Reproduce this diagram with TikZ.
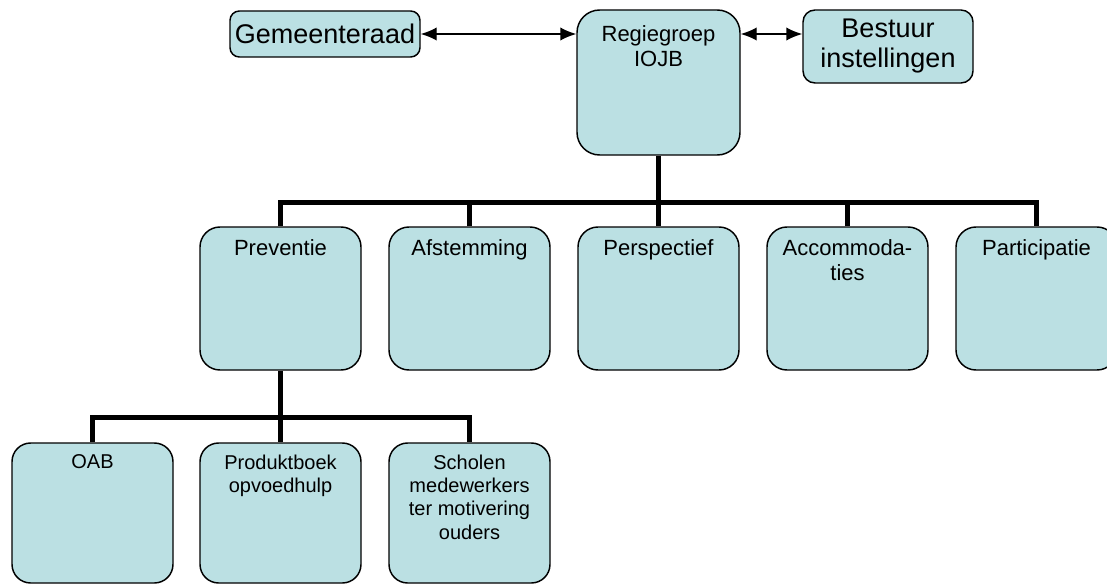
\documentclass[tikz,border=0pt]{standalone}
\usepackage{fontspec}
\setmainfont{Liberation Sans}
\usetikzlibrary{arrows.meta}
\definecolor{boxfill}{RGB}{187,224,227}
\tikzset{
  box/.style={draw, line width=1.1pt, fill=boxfill, inner sep=0pt},
  topbox/.style={box, rounded corners=7pt, font=\fontsize{20.25}{22.5}\selectfont, align=center},
  regbox/.style={box, rounded corners=17pt, minimum width=122.25pt, minimum height=108.75pt},
  midbox/.style={box, rounded corners=15pt, minimum width=120.75pt, minimum height=107.25pt},
  lowbox/.style={box, rounded corners=14pt, minimum width=120.75pt, minimum height=105pt},
  midtext/.style={anchor=north, inner xsep=0pt, inner ysep=9.75pt, align=center,
    font=\fontsize{16.5}{18.75}\selectfont},
  regtext/.style={midtext, inner ysep=12pt},
  lowtext/.style={midtext, inner ysep=9pt, font=\fontsize{15}{17.6}\selectfont},
  tree/.style={line width=4pt, line join=miter},
  link/.style={line width=1.1pt, {Latex[length=12pt,width=10pt]}-{Latex[length=12pt,width=10pt]}},
}
\begin{document}
\begin{tikzpicture}[x=0.75pt, y=-0.75pt]
  \useasboundingbox (0,0) rectangle (1107,585);

  % Top row
  \node[topbox, minimum width=142.5pt, minimum height=34.5pt] (gem) at (325,34) {Gemeenteraad};
  \node[regbox, label={[regtext]north:Regiegroep\\IOJB}] (reg) at (658.5,82.5) {};
  \node[topbox, rounded corners=9pt, minimum width=127.5pt, minimum height=54.75pt] (bes) at (888,46.5) {Bestuur\\instellingen};

  % Arrows between top row
  \draw[link] (gem.east) -- (gem.east -| reg.west);
  \draw[link] (reg.east |- gem.east) -- (bes.west |- gem.east);

  % Second row
  \node[midbox, label={[midtext]north:Preventie}] (prev) at (280.5,298.5) {};
  \node[midbox, label={[midtext]north:Afstemming}] (afst) at (469.5,298.5) {};
  \node[midbox, label={[midtext]north:Perspectief}] (persp) at (658.5,298.5) {};
  \node[midbox, label={[midtext]north:Accommoda-\\ties}] (acco) at (847.5,298.5) {};
  \node[midbox, label={[midtext]north:Participatie}] (part) at (1036.5,298.5) {};

  % Third row
  \node[lowbox, label={[lowtext]north:OAB}] (oab) at (92.5,513) {};
  \node[lowbox, label={[lowtext]north:Produktboek\\opvoedhulp}] (prod) at (280.5,513) {};
  \node[lowbox, label={[lowtext]north:Scholen\\medewerkers\\ter motivering\\ouders}] (schol) at (469.5,513) {};

  % Tree lines
  \draw[tree] (reg.south) -- (persp.north);
  \draw[tree] (prev.north) -- ++(0,-24) -| (part.north);
  \foreach \n in {afst,acco}
    \draw[tree] (\n.north) -- ++(0,-24);
  \draw[tree] (prev.south) -- (prod.north);
  \draw[tree] (oab.north) -- ++(0,-25) -| (schol.north);
\end{tikzpicture}
\end{document}
